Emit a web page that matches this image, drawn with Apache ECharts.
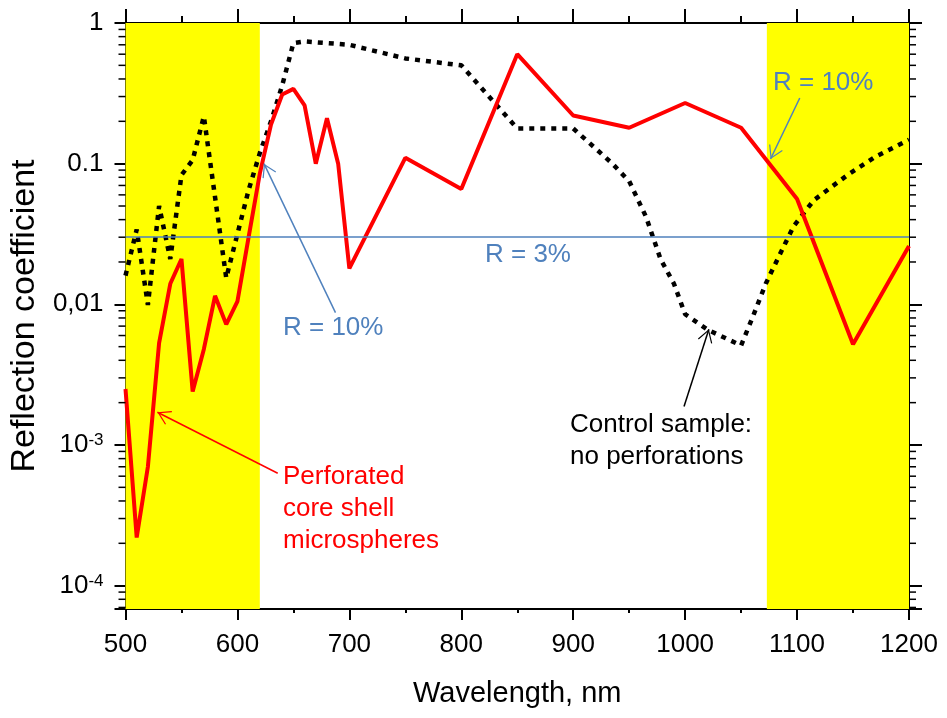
<!DOCTYPE html>
<html>
<head>
<meta charset="utf-8">
<script src="https://cdn.jsdelivr.net/npm/echarts@6/dist/echarts.min.js"></script>
<style>
  html, body { margin: 0; padding: 0; background: #fff; }
  #chart { width: 947px; height: 718px; }
</style>
</head>
<body>
<div id="chart"></div>
<script>
// perforated core shell microspheres (red)
const wlPerforated = [500, 510, 520, 530, 540, 550, 560, 570, 580, 590, 600, 610, 620, 630, 640, 650,
  660, 670, 680, 690, 700, 750, 800, 850, 900, 950, 1000, 1050, 1100, 1150, 1200]
const rPerforated = [0.0025, 0.00022, 0.0007, 0.0053, 0.014, 0.021, 0.0024, 0.0048, 0.0115, 0.0072, 0.0105,
  0.03, 0.085, 0.19, 0.31, 0.34, 0.26, 0.10, 0.21, 0.10, 0.018, 0.11, 0.066, 0.6, 0.22, 0.18, 0.27, 0.18,
  0.056, 0.0052, 0.026]

// control sample, no perforations (black dotted)
const wlControl = [500, 510, 520, 530, 540, 550, 560, 570, 590, 610, 620, 630, 640, 650, 660, 700, 750, 800,
  850, 900, 920, 935, 950, 965, 978, 990, 1000, 1020, 1050, 1060, 1072, 1085, 1097, 1115, 1145, 1170, 1200]
const rControl = [0.016, 0.034, 0.0099, 0.05, 0.021, 0.083, 0.106, 0.217, 0.0154, 0.065, 0.119, 0.2, 0.36,
  0.72, 0.74, 0.70, 0.56, 0.50, 0.178, 0.178, 0.128, 0.1, 0.075, 0.042, 0.021, 0.014, 0.0085, 0.0066, 0.0051,
  0.008, 0.014, 0.023, 0.036, 0.055, 0.083, 0.112, 0.148]

// yellow bands and the R = 3% line
const bands = [[500, 620], [1073, 1200]]
const refLevel = 0.03

const xMin = 500
const xMax = 1200
const yMin = Math.pow(10, -4.166)
const yMax = 1
const yLabels = { '0': '1', '-1': '0.1', '-2': '0,01', '-3': '10{sup|-3}', '-4': '10{sup|-4}' }

// log minor ticks 2..9 per decade
const minorTicks = []
for (let k = -5; k < 0; k++) {
  for (let m = 2; m <= 9; m++) {
    const v = m * Math.pow(10, k)
    if (v >= yMin && v <= yMax) minorTicks.push(v)
  }
}

const FONT = '"Liberation Sans", Arial, sans-serif'
const BLUE = '#4f81bd'
const chevron = 'path://M0,-11.6 L0.01,-11.6 L0.01,-11.59 Z M0,0 L6,11 L5.2,11.6 L0,2 L-5.2,11.6 L-6,11 Z'

function pairs(xs, ys) {
  return xs.map((x, i) => [x, ys[i]])
}

function arrow(from, to, color) {
  return [
    { coord: from, symbol: 'none', lineStyle: { color: color, width: 1.5, type: 'solid' } },
    { coord: to, symbol: chevron, symbolSize: [15, 26] }
  ]
}

function logYAxis(position, tickLen, showLabel) {
  return {
    type: 'log',
    position: position,
    min: yMin,
    max: yMax,
    logBase: 10,
    axisLine: { show: true, lineStyle: { color: '#000', width: 2 } },
    axisTick: { show: true, length: tickLen, lineStyle: { color: '#000', width: 2 } },
    splitLine: { show: false },
    axisLabel: {
      show: showLabel,
      fontSize: 26,
      color: '#000',
      margin: 22,
      fontFamily: FONT,
      formatter: v => {
        const e = Math.log10(v)
        if (Math.abs(e - Math.round(e)) > 1e-6) return ''
        return yLabels[String(Math.round(e))] || ''
      },
      rich: {
        sup: { fontSize: 17, verticalAlign: 'top', fontFamily: FONT, color: '#000' }
      }
    }
  }
}

function xAxis(position, tickLen, minorLen, showLabel) {
  return {
    type: 'value',
    position: position,
    min: xMin,
    max: xMax,
    interval: 100,
    axisLine: { show: true, onZero: false, lineStyle: { color: '#000', width: 2 } },
    axisTick: { show: true, length: tickLen, lineStyle: { color: '#000', width: 2 } },
    minorTick: { show: true, splitNumber: 2, length: minorLen, lineStyle: { color: '#000', width: 2 } },
    splitLine: { show: false },
    axisLabel: { show: showLabel, fontSize: 26, color: '#000', margin: 23, fontFamily: FONT, formatter: v => String(v) },
    name: showLabel ? 'Wavelength, nm' : '',
    nameLocation: 'middle',
    nameGap: 70,
    nameTextStyle: { fontSize: 29, color: '#000', fontFamily: FONT }
  }
}

const yLeft = logYAxis('left', 11, true)
yLeft.name = 'Reflection coefficient'
yLeft.nameLocation = 'middle'
yLeft.nameGap = 78
yLeft.nameTextStyle = { fontSize: 34, color: '#000', fontFamily: FONT }

const option = {
  animation: false,
  textStyle: { fontFamily: FONT },
  grid: { left: 124, right: 38, top: 23, bottom: 109, containLabel: false },
  xAxis: [xAxis('bottom', 11, 4, true), xAxis('top', 14, 7, false)],
  yAxis: [yLeft, logYAxis('right', 13, false)],
  series: [
    {
      // bands, R = 3% line
      type: 'line',
      data: [],
      silent: true,
      z: 1,
      markArea: {
        silent: true,
        itemStyle: { color: '#ffff00' },
        data: bands.map(b => [{ xAxis: b[0] }, { xAxis: b[1] }])
      },
      markLine: {
        silent: true,
        symbol: 'none',
        label: { show: false },
        lineStyle: { color: BLUE, width: 1.5, type: 'solid' },
        data: [{ yAxis: refLevel }]
      }
    },
    {
      name: 'Control sample: no perforations',
      type: 'line',
      data: pairs(wlControl, rControl),
      showSymbol: false,
      z: 3,
      lineStyle: { color: '#000', width: 4.5, type: [5, 6] }
    },
    {
      name: 'Perforated core shell microspheres',
      type: 'line',
      data: pairs(wlPerforated, rPerforated),
      showSymbol: false,
      z: 4,
      lineStyle: { color: '#ff0000', width: 4 }
    },
    {
      // annotation arrows
      type: 'line',
      data: [],
      silent: true,
      z: 5,
      markLine: {
        silent: true,
        label: { show: false },
        data: [
          arrow([636, 6.3e-4], [528.5, 1.71e-3], '#ff0000'),
          arrow([687.6, 8.74e-3], [623.7, 0.1], BLUE),
          arrow([999, 1.875e-3], [1021.2, 6.66e-3], '#000'),
          arrow([1102.4, 0.293], [1076.3, 0.108], BLUE)
        ]
      }
    },
    {
      // log minor ticks on both y axes
      type: 'custom',
      data: minorTicks.map(v => [xMin, v]),
      silent: true,
      clip: false,
      z: 6,
      renderItem: (params, api) => {
        const left = api.coord([xMin, api.value(1)])
        const right = api.coord([xMax, api.value(1)])
        const style = { stroke: '#000', lineWidth: 1.5 }
        return {
          type: 'group',
          children: [
            { type: 'line', shape: { x1: left[0] - 7, y1: left[1], x2: left[0], y2: left[1] }, style: style },
            { type: 'line', shape: { x1: right[0], y1: right[1], x2: right[0] + 7, y2: right[1] }, style: style }
          ]
        }
      }
    }
  ],
  graphic: [
    {
      type: 'text', left: 283, top: 461, z: 100,
      style: { text: 'Perforated\ncore shell\nmicrospheres', fill: '#ff0000', font: '26px ' + FONT, lineHeight: 32 }
    },
    {
      type: 'text', left: 570, top: 409, z: 100,
      style: { text: 'Control sample:\nno perforations', fill: '#000', font: '26px ' + FONT, lineHeight: 32 }
    },
    { type: 'text', left: 283, top: 315, z: 100, style: { text: 'R = 10%', fill: BLUE, font: '26px ' + FONT } },
    { type: 'text', left: 485, top: 242, z: 100, style: { text: 'R = 3%', fill: BLUE, font: '26px ' + FONT } },
    { type: 'text', left: 773, top: 70, z: 100, style: { text: 'R = 10%', fill: BLUE, font: '26px ' + FONT } }
  ]
}

const chart = echarts.init(document.getElementById('chart'))
chart.setOption(option)
</script>
</body>
</html>
